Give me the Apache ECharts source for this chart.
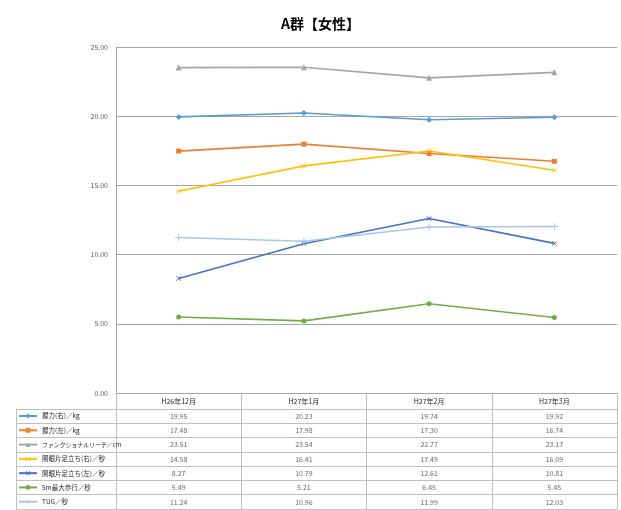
<!DOCTYPE html>
<html><head><meta charset="utf-8">
<script src="https://cdn.jsdelivr.net/npm/echarts@6/dist/echarts.min.js"></script>
<style>html,body{margin:0;background:#fff}#c{width:621px;height:510px}</style>
</head><body><div id="c"></div>
<script>
// Survey months
const months = ['H26年12月', 'H27年1月', 'H27年2月', 'H27年3月'];
// Measurement series
const gripRight = [19.95, 20.23, 19.74, 19.92];
const gripLeft = [17.48, 17.98, 17.30, 16.74];
const reach = [23.51, 23.54, 22.77, 23.17];
const standRight = [14.58, 16.41, 17.49, 16.09];
const standLeft = [8.27, 10.79, 12.61, 10.81];
const walk5m = [5.49, 5.21, 6.45, 5.45];
const tug = [11.24, 10.96, 11.99, 12.03];
// Value axis range
const yMin = 0, yMax = 25, yStep = 5;

const FONT = '"Noto Sans CJK JP", "Noto Sans", sans-serif';
const xShape = 'path://M0,1L1,0L5,4L9,0L10,1L6,5L10,9L9,10L5,6L1,10L0,9L4,5Z';
const plusShape = 'path://M4.3,0H5.7V4.3H10V5.7H5.7V10H4.3V5.7H0V4.3H4.3Z';

const rows = [
  { name: '握力(右)／kg', data: gripRight, color: '#5B9BD5', symbol: 'diamond', size: 6 },
  { name: '握力(左)／kg', data: gripLeft, color: '#ED7D31', symbol: 'rect', size: 5 },
  { name: 'ファンクショナルリーチ／cm', data: reach, color: '#A5A5A5', symbol: 'triangle', size: 6, legendFont: 5.9 },
  { name: '開眼片足立ち(右)／秒', data: standRight, color: '#FFC000', symbol: xShape, size: 5 },
  { name: '開眼片足立ち(左)／秒', data: standLeft, color: '#4472C4', symbol: xShape, size: 5 },
  { name: '5m最大歩行／秒', data: walk5m, color: '#70AD47', symbol: 'circle', size: 5 },
  { name: 'TUG／秒', data: tug, color: '#A9C6E8', symbol: plusShape, size: 7 }
];

const lineSeries = rows.map(r => ({
  name: r.name,
  type: 'line',
  xAxisIndex: 0, yAxisIndex: 0,
  data: r.data,
  symbol: r.symbol,
  symbolSize: r.size,
  showAllSymbol: true,
  lineStyle: { color: r.color, width: 1.6 },
  itemStyle: { color: r.color, borderWidth: 0 },
  emphasis: { disabled: true },
  z: 3
}));

// Cells of the data table beneath the plot
const cells = [];
rows.forEach((r, ri) => r.data.forEach((v, mi) => cells.push([mi, ri, v])));

const tableSeries = {
  name: 'table',
  type: 'scatter',
  xAxisIndex: 1, yAxisIndex: 1,
  data: cells,
  encode: { x: 0, y: 1 },
  symbolSize: 1,
  itemStyle: { color: 'rgba(0,0,0,0)' },
  label: {
    show: true, position: 'inside',
    formatter: p => p.value[2].toFixed(2),
    fontSize: 7, color: '#404040', fontFamily: FONT
  },
  emphasis: { disabled: true },
  silent: true
};

const rowNames = rows.map(r => r.name);
const legendItems = rows.map(r => r.legendFont
  ? { name: r.name, textStyle: { fontSize: r.legendFont } }
  : { name: r.name });
const gridLine = '#A6A6A6';
const tableLine = '#BFBFBF';

const chart = echarts.init(document.getElementById('c'), null, { renderer: 'canvas' });
chart.setOption({
  animation: false,
  backgroundColor: '#fff',
  title: {
    text: 'A群【女性】', left: 276, top: 12,
    textStyle: { fontSize: 14, fontWeight: 'bold', color: '#000', fontFamily: FONT }
  },
  legend: {
    orient: 'vertical', left: 18, top: 411, padding: 0, height: 100,
    data: legendItems,
    itemWidth: 18, itemHeight: 6, itemGap: 4.29,
    selectedMode: false,
    textStyle: { fontSize: 6.5, color: '#262626', fontFamily: FONT, lineHeight: 10, height: 10 }
  },
  grid: [
    { left: 116, right: 4, top: 47, height: 346, outerBoundsMode: 'none' },
    { left: 116, right: 4, top: 409, height: 100, outerBoundsMode: 'none' }
  ],
  xAxis: [
    {
      type: 'category', gridIndex: 0, data: months, boundaryGap: true,
      axisLine: { show: true, lineStyle: { color: gridLine, width: 1 } },
      axisTick: { show: true, interval: 0, length: 16, lineStyle: { color: tableLine } },
      axisLabel: { interval: 0, margin: 5, fontSize: 7, color: '#262626', fontFamily: FONT },
      splitLine: { show: false }
    },
    {
      type: 'category', gridIndex: 1, data: months, boundaryGap: true,
      axisLine: { show: true, lineStyle: { color: tableLine } },
      axisTick: { show: false },
      axisLabel: { show: false },
      splitLine: { show: true, interval: 0, lineStyle: { color: tableLine } }
    }
  ],
  yAxis: [
    {
      type: 'value', gridIndex: 0, min: yMin, max: yMax, interval: yStep,
      axisLine: { show: true, lineStyle: { color: gridLine } },
      axisTick: { show: false },
      axisLabel: { formatter: v => v.toFixed(2), fontSize: 7, color: '#595959', margin: 8, fontFamily: FONT },
      splitLine: { show: true, lineStyle: { color: gridLine } }
    },
    {
      type: 'category', gridIndex: 1, data: rowNames, inverse: true, boundaryGap: true,
      axisLine: { show: true, lineStyle: { color: tableLine } },
      axisTick: { show: true, interval: 0, length: 100, lineStyle: { color: tableLine } },
      axisLabel: { show: false },
      splitLine: { show: true, interval: 0, lineStyle: { color: tableLine } }
    },
    {
      type: 'category', gridIndex: 1, data: rowNames, inverse: true, offset: 100, position: 'left',
      axisLine: { show: true, lineStyle: { color: tableLine } },
      axisTick: { show: false }, axisLabel: { show: false }, splitLine: { show: false }
    }
  ],
  series: [...lineSeries, tableSeries]
});
</script>
</body></html>
